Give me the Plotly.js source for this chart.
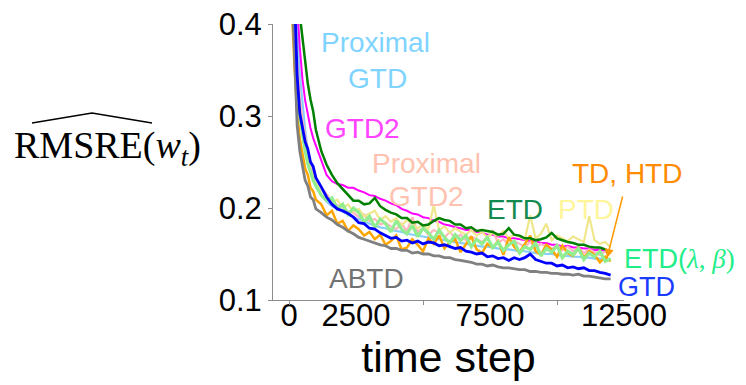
<!DOCTYPE html>
<html>
<head>
<meta charset="utf-8">
<script src="https://cdn.plot.ly/plotly-3.0.1.min.js"></script>
<style>html,body{margin:0;padding:0;background:#fff;}#chart{width:746px;height:385px;}</style>
</head>
<body>
<div id="chart"></div>
<script>
// time steps
const steps = [0,100,200,300,400,500,600,700,800,900,1000,
  1200,1400,1600,1800,2000,2200,2400,2600,2800,3000,
  3200,3400,3600,3800,4000,4200,4400,4600,4800,5000,
  5200,5400,5600,5800,6000,6200,6400,6600,6800,7000,
  7200,7400,7600,7800,8000,8200,8400,8600,8800,9000,
  9200,9400,9600,9800,10000,10200,10400,10600,10800,11000,
  11200,11400,11600,11800,12000];

const proxGtd = [0.68,0.58,0.48,0.40,0.345,0.312,0.285,0.262,0.245,0.232,0.224,
  0.214,0.207,0.202,0.199,0.196,0.193,0.190,0.188,0.186,0.183,
  0.181,0.179,0.178,0.176,0.175,0.174,0.172,0.171,0.170,0.169,
  0.168,0.167,0.166,0.165,0.164,0.163,0.162,0.161,0.160,0.159,
  0.158,0.158,0.157,0.156,0.155,0.155,0.154,0.153,0.153,0.152,
  0.151,0.151,0.150,0.150,0.149,0.148,0.148,0.147,0.147,0.146,
  0.146,0.145,0.145,0.144,0.144];

const gtd2 = [0.80,0.67,0.52,0.42,0.375,0.34,0.317,0.300,0.287,0.276,0.268,
  0.252,0.236,0.229,0.226,0.225,0.222,0.222,0.219,0.217,0.214,
  0.213,0.210,0.208,0.205,0.203,0.199,0.197,0.194,0.193,0.190,
  0.189,0.186,0.185,0.182,0.181,0.179,0.178,0.176,0.176,0.174,
  0.173,0.171,0.171,0.169,0.169,0.167,0.167,0.166,0.165,0.164,
  0.164,0.162,0.162,0.160,0.160,0.158,0.159,0.157,0.157,0.156,
  0.156,0.154,0.155,0.153,0.152];

const proxGtd2 = [0.63,0.53,0.44,0.36,0.32,0.296,0.278,0.262,0.250,0.240,0.232,
  0.222,0.215,0.208,0.203,0.201,0.196,0.195,0.190,0.193,0.186,
  0.188,0.182,0.184,0.180,0.177,0.183,0.175,0.190,0.174,0.178,
  0.171,0.176,0.173,0.168,0.174,0.167,0.171,0.165,0.169,0.166,
  0.163,0.168,0.175,0.162,0.166,0.160,0.164,0.161,0.158,0.163,
  0.157,0.161,0.158,0.155,0.160,0.154,0.158,0.153,0.157,0.151,
  0.155,0.152,0.149,0.153,0.150];

const ptd = [0.61,0.50,0.41,0.335,0.303,0.283,0.266,0.252,0.242,0.234,0.228,
  0.220,0.213,0.206,0.209,0.200,0.204,0.196,0.199,0.191,0.194,
  0.197,0.187,0.191,0.185,0.189,0.181,0.187,0.183,0.178,0.182,
  0.177,0.203,0.176,0.180,0.173,0.178,0.174,0.171,0.176,0.170,
  0.174,0.168,0.173,0.170,0.175,0.167,0.171,0.169,0.166,0.192,
  0.167,0.172,0.183,0.165,0.170,0.167,0.164,0.169,0.166,0.163,
  0.191,0.165,0.161,0.163,0.157];

const tdHtd = [0.58,0.42,0.355,0.305,0.275,0.258,0.243,0.236,0.222,0.218,0.209,
  0.204,0.192,0.197,0.183,0.186,0.175,0.181,0.177,0.170,0.174,
  0.166,0.171,0.160,0.164,0.170,0.155,0.157,0.166,0.160,0.153,
  0.167,0.161,0.170,0.156,0.163,0.166,0.152,0.160,0.169,0.155,
  0.151,0.161,0.157,0.164,0.149,0.168,0.158,0.152,0.161,0.170,
  0.153,0.149,0.160,0.155,0.147,0.159,0.151,0.148,0.157,0.146,
  0.153,0.149,0.141,0.147,0.142];

const etdLambdaBeta = [0.60,0.48,0.40,0.33,0.30,0.28,0.262,0.248,0.238,0.230,0.224,
  0.214,0.208,0.211,0.199,0.204,0.193,0.200,0.195,0.185,0.191,
  0.179,0.188,0.183,0.174,0.186,0.177,0.172,0.181,0.169,0.178,
  0.173,0.166,0.176,0.168,0.162,0.171,0.165,0.170,0.158,0.166,
  0.161,0.168,0.157,0.163,0.154,0.160,0.164,0.151,0.158,0.155,
  0.162,0.148,0.156,0.152,0.159,0.146,0.153,0.149,0.156,0.144,
  0.151,0.147,0.153,0.142,0.145];

const etd = [0.85,0.72,0.60,0.48,0.41,0.385,0.36,0.335,0.318,0.305,0.285,
  0.262,0.247,0.236,0.227,0.221,0.215,0.208,0.208,0.204,0.205,
  0.211,0.202,0.198,0.195,0.193,0.189,0.189,0.184,0.185,0.181,
  0.182,0.186,0.189,0.187,0.186,0.182,0.182,0.178,0.179,0.175,
  0.176,0.175,0.174,0.171,0.172,0.178,0.171,0.170,0.167,0.167,
  0.165,0.166,0.168,0.173,0.167,0.165,0.163,0.162,0.160,0.160,
  0.158,0.157,0.157,0.155,0.152];

const abtd = [0.56,0.44,0.37,0.29,0.262,0.247,0.230,0.224,0.212,0.209,0.199,
  0.195,0.190,0.187,0.182,0.179,0.175,0.172,0.168,0.166,0.164,
  0.162,0.160,0.159,0.156,0.156,0.154,0.154,0.151,0.152,0.150,
  0.150,0.148,0.148,0.146,0.146,0.144,0.143,0.142,0.141,0.139,
  0.139,0.137,0.138,0.136,0.135,0.135,0.134,0.133,0.133,0.131,
  0.131,0.130,0.130,0.129,0.129,0.128,0.128,0.127,0.128,0.126,
  0.126,0.125,0.124,0.123,0.123];

const gtd = [0.62,0.52,0.43,0.345,0.303,0.289,0.272,0.264,0.250,0.245,0.233,
  0.223,0.212,0.204,0.199,0.197,0.194,0.190,0.184,0.183,0.178,
  0.177,0.173,0.170,0.167,0.168,0.164,0.165,0.162,0.164,0.161,
  0.163,0.162,0.159,0.160,0.158,0.156,0.157,0.153,0.152,0.150,
  0.151,0.147,0.148,0.145,0.146,0.143,0.146,0.144,0.146,0.150,
  0.144,0.142,0.140,0.140,0.137,0.138,0.135,0.136,0.134,0.135,
  0.132,0.132,0.130,0.129,0.127];

const xTickVals = [0,2500,7500,12500];
const xTickText = ['0','2500','7500','12500'];
const xTickMarks = [0,5000,10000];
const yTickVals = [0.1,0.2,0.3,0.4];
const yTickText = ['0.1','0.2','0.3','0.4'];

const series = [
  {name:'Proximal GTD', y: proxGtd, color:'#87cefa', w:2.2},
  {name:'GTD2', y: gtd2, color:'#ff00ff', w:2},
  {name:'Proximal GTD2', y: proxGtd2, color:'#ffb6c1', w:2.2},
  {name:'PTD', y: ptd, color:'#f0e68c', w:2.2},
  {name:'TD, HTD', y: tdHtd, color:'#ffa500', w:2.5},
  {name:'ETD(λ, β)', y: etdLambdaBeta, color:'#90ee90', w:3.2},
  {name:'ETD', y: etd, color:'#008000', w:2.5},
  {name:'ABTD', y: abtd, color:'#808080', w:2.8},
  {name:'GTD', y: gtd, color:'#0000ff', w:2.8}
];

const traces = series.map(s => ({
  type:'scatter', mode:'lines', x: steps, y: s.y, name: s.name,
  line:{color:s.color, width:s.w}, hoverinfo:'skip'
}));
// invisible trace to carry the secondary x-axis tick marks
traces.push({type:'scatter', mode:'lines', x:[xTickMarks[0], xTickMarks[xTickMarks.length-1]], y:[0.1,0.1],
  xaxis:'x2', line:{width:0, color:'rgba(0,0,0,0)'}, hoverinfo:'skip', showlegend:false});

const sans = 'Liberation Sans, Arial, Helvetica, sans-serif';
const serif = 'Liberation Serif, Times New Roman, serif';

function lbl(text, x, y, color, size) {
  return {text:text, xref:'paper', yref:'paper', x:x, y:y, xanchor:'center', yanchor:'middle',
    showarrow:false, font:{family:sans, size:size||28, color:color}};
}

const layout = {
  width:746, height:385,
  margin:{l:273, r:122, t:24, b:85},
  paper_bgcolor:'#fff', plot_bgcolor:'#fff',
  showlegend:false,
  font:{family:sans, color:'#000'},
  xaxis:{range:[-600,12500], tickvals:xTickVals, ticktext:xTickText, ticks:'',
    ticklabelstandoff:-12,
    showline:true, linecolor:'#8c8c8c', linewidth:1, showgrid:false, zeroline:false,
    tickfont:{size:31, family:sans, color:'#000'},
    title:{text:'time step', font:{size:43, family:sans, color:'#000'}, standoff:7}},
  xaxis2:{range:[-600,12500], overlaying:'x', side:'bottom', anchor:'y', tickvals:xTickMarks,
    ticks:'outside', ticklen:4, tickcolor:'#8c8c8c', showticklabels:false, showline:false,
    showgrid:false, zeroline:false},
  yaxis:{range:[0.1,0.4], tickvals:yTickVals, ticktext:yTickText, ticks:'outside', ticklen:4,
    tickcolor:'#8c8c8c', showline:true, linecolor:'#8c8c8c', linewidth:1, showgrid:false, zeroline:false,
    tickfont:{size:31, family:sans, color:'#000'}},
  annotations:[
    lbl('Proximal', 0.2906, 0.9312, '#7fd4ff'),
    lbl('GTD', 0.2963, 0.8043, '#7fd4ff'),
    lbl('GTD2', 0.2536, 0.6196, '#ff44ff'),
    lbl('Proximal', 0.4387, 0.4928, '#ffc2b0'),
    lbl('GTD2', 0.4359, 0.3768, '#ffc2b0'),
    lbl('ETD', 0.6895, 0.3297, '#138a50'),
    lbl('PTD', 0.8917, 0.3297, '#fff59a'),
    lbl('TD, HTD', 1.0085, 0.4601, '#ff8c00'),
    lbl('ETD(<span style="font-family:Liberation Serif"><i>λ</i>, <i>β</i>)</span>', 1.1595, 0.1500, '#22ee88', 27),
    lbl('GTD', 1.0627, 0.0480, '#1a3cff', 27),
    lbl('ABTD', 0.2650, 0.0797, '#737373'),
    {text:'', x:11866, y:0.1457, xref:'x', yref:'y', ax:16, ay:-63, showarrow:true,
      arrowcolor:'#ff9900', arrowwidth:1.5, arrowhead:2, arrowsize:1.2},
    {text:'RMSRE(<i>w</i><sub><i>t</i></sub>)', xref:'paper', yref:'paper', x:-0.4729, y:0.5507,
      xanchor:'center', yanchor:'middle', showarrow:false, font:{family:serif, size:38, color:'#000'}}
  ],
  shapes:[
    {type:'path', xref:'paper', yref:'paper', path:'M -0.6866,0.6413 L -0.5157,0.6775 L -0.3447,0.6413',
      line:{color:'#000', width:1.5}}
  ]
};

Plotly.newPlot('chart', traces, layout, {staticPlot:true, displayModeBar:false});
</script>
</body>
</html>
